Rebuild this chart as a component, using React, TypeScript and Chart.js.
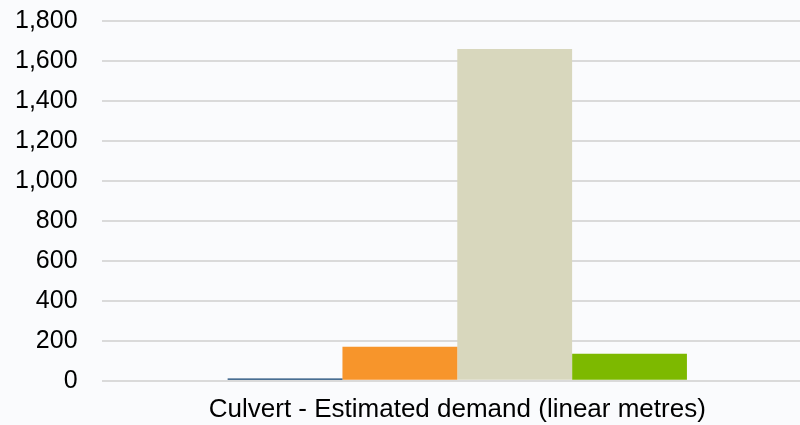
import React, { useEffect, useRef } from "react";
import { Chart, registerables } from "chart.js";

Chart.register(...registerables);

const categories = ["Culvert - Estimated demand (linear metres)"];
const seriesNames = ["Series 1", "Series 2", "Series 3", "Series 4"];
const seriesValues = [[12], [170], [1660], [135]];
const seriesColors = ["#0d3f6e", "#f7952b", "#d8d7bd", "#7db900"];
const yTicks = [0, 200, 400, 600, 800, 1000, 1200, 1400, 1600, 1800];

export default function App() {
  const ref = useRef<HTMLCanvasElement | null>(null);
  useEffect(() => {
    document.body.style.margin = "0";
    const chart = new Chart(ref.current!, {
      type: "bar",
      data: {
        labels: categories,
        datasets: seriesNames.map((n, i) => ({
          label: n,
          data: seriesValues[i],
          backgroundColor: seriesColors[i],
          borderWidth: 0,
          barPercentage: 1,
          categoryPercentage: 0.6456,
        })),
      },
      options: {
        animation: false,
        responsive: false,
        maintainAspectRatio: false,
        layout: { padding: { top: -9, right: 0, left: -9, bottom: -13 } },
        plugins: { legend: { display: false }, tooltip: { enabled: false } },
        scales: {
          x: {
            grid: { display: false, drawTicks: false },
            border: { display: false },
            ticks: { color: "#000", font: { family: "Liberation Sans, Arial", size: 26 }, padding: 13 },
          },
          y: {
            min: 0,
            max: 1800,
            afterBuildTicks: (axis: any) => {
              axis.ticks = yTicks.map((v) => ({ value: v }));
            },
            grid: { color: "#dadada", lineWidth: 2, drawTicks: false },
            border: { display: false },
            ticks: {
              color: "#000",
              font: { family: "Liberation Sans, Arial", size: 25 },
              padding: 24,
              callback: (v: any) => Number(v).toLocaleString("en-US"),
            },
          },
        },
      },
    });
    return () => chart.destroy();
  }, []);
  return (
    <div style={{ width: 800, height: 425, overflow: "hidden", background: "#fafbfd" }}>
      <canvas ref={ref} width={813} height={443} style={{ display: "block", marginTop: -18 }} />
    </div>
  );
}
